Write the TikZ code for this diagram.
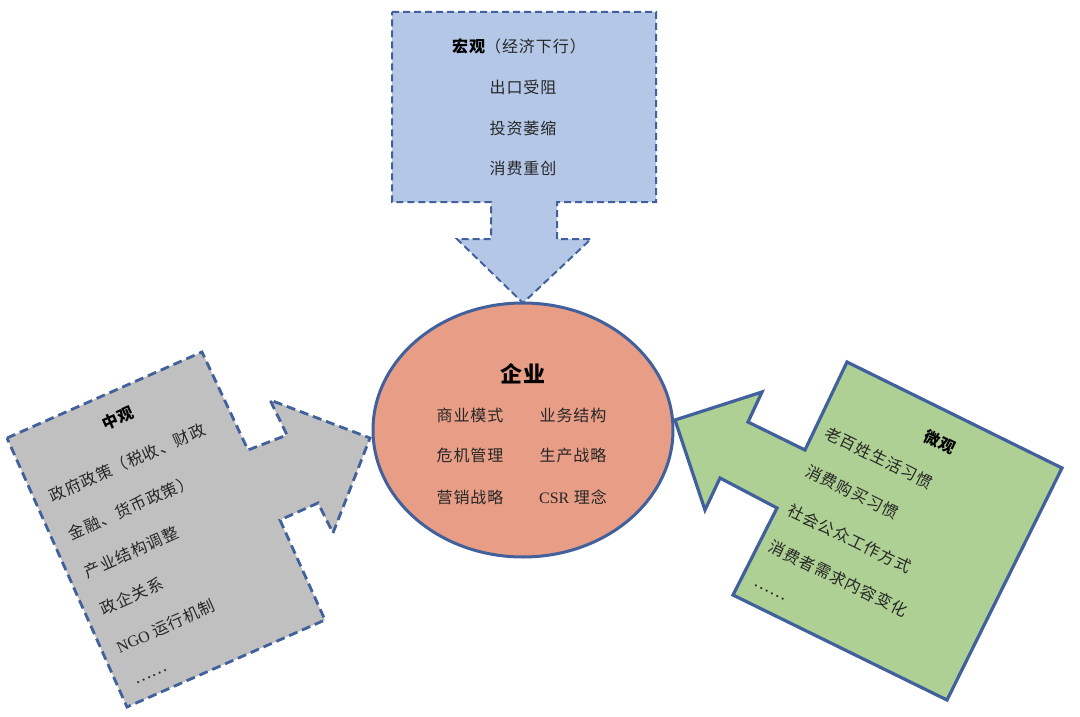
\documentclass[tikz,border=0pt]{standalone}
\usepackage{fontspec}
\setmainfont{Noto Sans CJK SC}[LetterSpace=6]
\newfontfamily\lat{Liberation Serif}
\definecolor{edgeblue}{HTML}{41609C}
\definecolor{topfill}{HTML}{B4C7E7}
\definecolor{leftfill}{HTML}{C0C0C0}
\definecolor{rightfill}{HTML}{AED094}
\definecolor{ellfill}{HTML}{E89E86}
\definecolor{txt}{HTML}{262626}
\begin{document}
\begin{tikzpicture}[x=1pt,y=-1pt,
  topshape/.style={fill=topfill,draw=edgeblue,line width=2pt,dash pattern=on 7pt off 4pt,line join=miter},
  leftshape/.style={fill=leftfill,draw=edgeblue,line width=2.8pt,dash pattern=on 9pt off 5pt,line join=miter},
  rightshape/.style={fill=rightfill,draw=edgeblue,line width=3.2pt,line join=miter},
  ellshape/.style={fill=ellfill,draw=edgeblue,line width=3pt},
  body/.style={inner sep=0pt,text=txt,font=\fontsize{16}{18}\selectfont},
  head/.style={inner sep=0pt,text=black,font=\fontsize{16}{18}\selectfont\bfseries},
]
\useasboundingbox (0,0) rectangle (1080,717);

% top callout (macro)
\draw[topshape] (392,12) -- (656,12) -- (656,202) -- (557,202) -- (557,239) -- (591,239)
  -- (523,303) -- (457,239) -- (491,239) -- (491,202) -- (392,202) -- cycle;
\node[body] (macroT) at (519,46) {{\bfseries\color{black}宏观}（经济下行）};
\node[body] (macro1) at (523,87) {出口受阻};
\node[body] (macro2) at (523,128) {投资萎缩};
\node[body] (macro3) at (523,168) {消费重创};

% left callout (meso)
\draw[leftshape] (7,438) -- (202,352) -- (248,450) -- (287,435) -- (270,400) -- (370,438)
  -- (333,533) -- (318,503) -- (280,520) -- (325,620) -- (127,707) -- cycle;
\node[head,rotate=24] (mesoT) at (118,418) {中观};
\node[body,rotate=24,anchor=west] (meso1) at (50,497) {政府政策（税收、财政};
\node[body,rotate=24,anchor=west] (meso2) at (69,535) {金融、货币政策）};
\node[body,rotate=24,anchor=west] (meso3) at (85,573) {产业结构调整};
\node[body,rotate=24,anchor=west] (meso4) at (101,610) {政企关系};
\node[body,rotate=24,anchor=west] (meso5) at (117,648) {{\lat NGO} 运行机制};
\node[body,rotate=24,anchor=west] (meso6) at (136,684) {……};

% right callout (micro)
\draw[rightshape] (847,362) -- (1062,468) -- (947,700) -- (733,595) -- (777,508) -- (720,478)
  -- (705,510) -- (675,420) -- (762,392) -- (748,422) -- (805,450) -- cycle;
\node[head,rotate=-26] (microT) at (940,442) {微观};
\node[body,rotate=-26,anchor=west] (micro1) at (826,432) {老百姓生活习惯};
\node[body,rotate=-26,anchor=west] (micro2) at (807,470) {消费购买习惯};
\node[body,rotate=-26,anchor=west] (micro3) at (789,509) {社会公众工作方式};
\node[body,rotate=-26,anchor=west] (micro4) at (770,545) {消费者需求内容变化};
\node[body,rotate=-26,anchor=west] (micro5) at (754,585) {……};

% center ellipse
\draw[ellshape] (523,430) ellipse [x radius=150, y radius=127];
\node[inner sep=0pt,text=black,font=\fontsize{22}{24}\selectfont\bfseries] (ent) at (523,374) {企业};
\node[body] (e1) at (470,415) {商业模式};
\node[body] (e2) at (573,415) {业务结构};
\node[body] (e3) at (470,455) {危机管理};
\node[body] (e4) at (573,455) {生产战略};
\node[body] (e5) at (470,497) {营销战略};
\node[body] (e6) at (573,497) {{\lat CSR} 理念};
\end{tikzpicture}
\end{document}
